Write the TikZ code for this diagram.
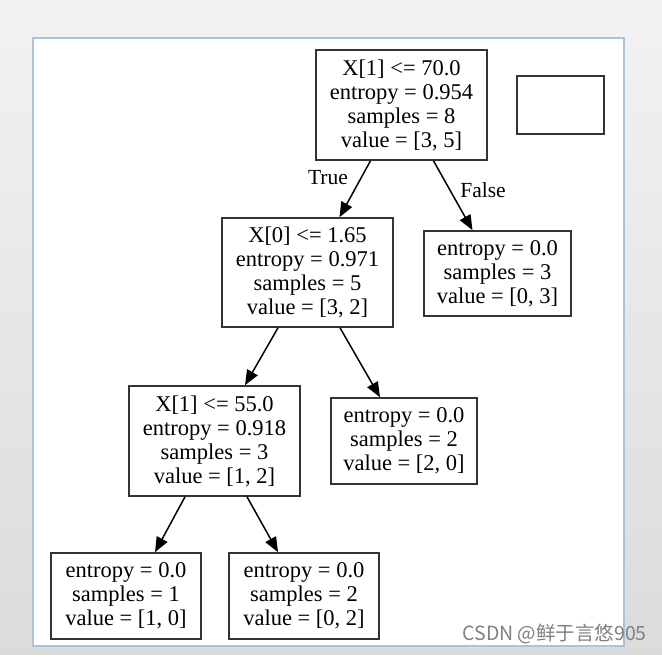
\documentclass[tikz,border=0pt]{standalone}
\usepackage{fontspec}
\setmainfont{Liberation Serif}
\newfontfamily\cjkwm{Noto Sans CJK SC}
\usetikzlibrary{arrows.meta}
\definecolor{framebl}{HTML}{A9C3DD}
\definecolor{boxline}{HTML}{333333}
\tikzset{
  treebox/.style={draw=boxline, line width=1.6pt, fill=white, align=center, inner sep=0pt,
    font=\fontsize{22.5}{24}\selectfont},
  arr/.style={line width=1.5pt, -{Triangle[length=15pt,width=12pt]}},
  edgelbl/.style={font=\fontsize{21.5}{24}\selectfont, inner sep=0pt},
}
\begin{document}
\begin{tikzpicture}[x=1pt,y=-1pt]
\useasboundingbox (0,0) rectangle (662,654);
\shade[top color=white!95!black, bottom color=white!86!black] (0,0) rectangle (662,654);
\draw[draw=framebl, line width=1.2pt, fill=white] (33,38) rectangle (624,646);

\node[treebox, minimum width=171pt, minimum height=110pt] (root) at (401.5,105) {X[1] <= 70.0\\entropy = 0.954\\samples = 8\\value = [3, 5]};
\node[treebox, minimum width=87pt, minimum height=58pt] (empty) at (560.5,105) {};
\node[treebox, minimum width=171pt, minimum height=109pt] (n2) at (307.5,272.5) {X[0] <= 1.65\\entropy = 0.971\\samples = 5\\value = [3, 2]};
\node[treebox, minimum width=147pt, minimum height=85pt] (l1) at (497.5,273.5) {entropy = 0.0\\samples = 3\\value = [0, 3]};
\node[treebox, minimum width=171pt, minimum height=110pt] (n3) at (214.5,441) {X[1] <= 55.0\\entropy = 0.918\\samples = 3\\value = [1, 2]};
\node[treebox, minimum width=146pt, minimum height=86pt] (l2) at (404,441) {entropy = 0.0\\samples = 2\\value = [2, 0]};
\node[treebox, minimum width=150pt, minimum height=86pt] (l3) at (126,596) {entropy = 0.0\\samples = 1\\value = [1, 0]};
\node[treebox, minimum width=150pt, minimum height=86pt] (l4) at (304,596) {entropy = 0.0\\samples = 2\\value = [0, 2]};

\draw[arr] ([xshift=-31pt]root.south) -- ([xshift=32pt]n2.north);
\draw[arr] ([xshift=32pt]root.south) -- ([xshift=-25pt]l1.north);
\draw[arr] ([xshift=-29.5pt]n2.south) -- ([xshift=30.5pt]n3.north);
\draw[arr] ([xshift=32.5pt]n2.south) -- ([xshift=-24pt]l2.north);
\draw[arr] ([xshift=-29.5pt]n3.south) -- ([xshift=29pt]l3.north);
\draw[arr] ([xshift=32.5pt]n3.south) -- ([xshift=-26pt]l4.north);

\node[edgelbl] (tlbl) at (328,178) {True};
\node[edgelbl] (flbl) at (483,190) {False};

\node[font=\cjkwm\fontsize{19.5}{22}\selectfont, text=black!50, inner sep=0pt, anchor=east] (wm) at (647,634) {CSDN @鲜于言悠905};
\end{tikzpicture}
\end{document}
